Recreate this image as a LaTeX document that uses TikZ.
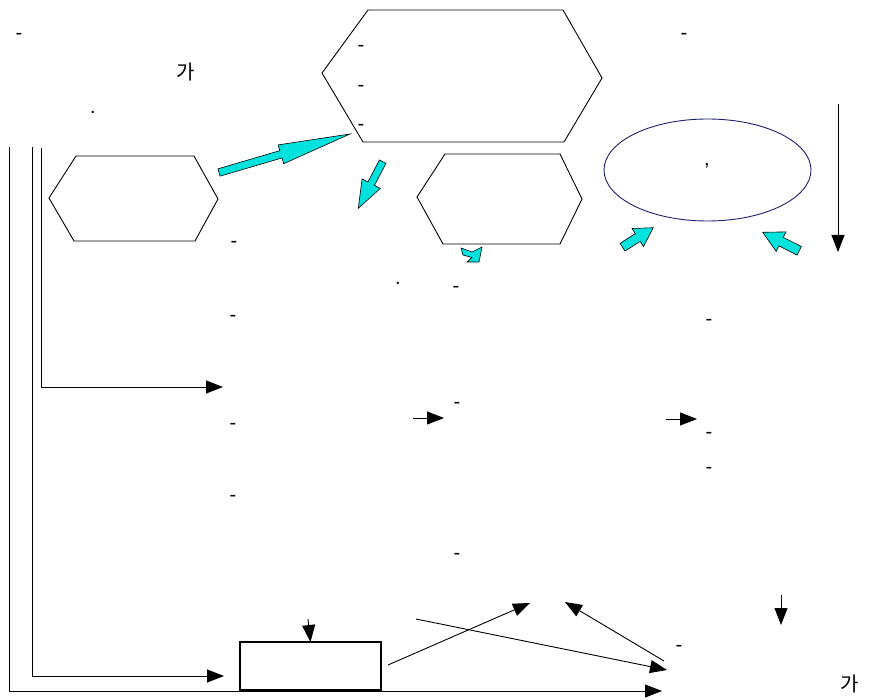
\documentclass[tikz,border=0pt]{standalone}
\usepackage{fontspec}
\setmainfont{Liberation Sans}
\newfontfamily\kofont{Noto Sans CJK KR}
\usepackage{tikz}
\usetikzlibrary{calc}
\usetikzlibrary{arrows.meta}
\usetikzlibrary{shapes,shapes.geometric}
\definecolor{cyanbi}{RGB}{0,226,222}
\definecolor{navybi}{RGB}{32,32,112}
\newcommand{\cyanarrow}[5]{%
	\coordinate (hb) at ($(#2)!#5!(#1)$);
	\draw[cyanblock] ($(#1)!#3!90:(#2)$) -- ($(hb)!#3!-90:(#1)$) -- ($(hb)!#4!-90:(#1)$) -- (#2)
		-- ($(hb)!#4!90:(#1)$) -- ($(hb)!#3!90:(#1)$) -- ($(#1)!#3!-90:(#2)$) -- cycle;}

\begin{document}
\begin{tikzpicture}[x=1pt, y=-1pt, line width=0.9pt,
		conn/.style={-{Triangle[length=17pt,width=13pt]}},
		txt/.style={inner sep=0pt, anchor=base, font=\fontsize{20}{24}\selectfont},
		kotxt/.style={inner sep=0pt, anchor=base, font=\kofont\fontsize{20}{24}\selectfont},
		cyanblock/.style={fill=cyanbi, draw=black, line width=0.6pt}]
				\useasboundingbox (0,0) rectangle (869,700);
				\draw (322,73) -- (368,10) -- (563,10) -- (602,78) -- (564,142) -- (363,142) -- cycle;
				\draw (49,198) -- (76,156) -- (194,156) -- (218,199) -- (195,241) -- (74,241) -- cycle;
				\draw (417,197) -- (445,154) -- (560,154) -- (582,199) -- (560,244) -- (443,244) -- cycle;
				\node[draw=navybi, ellipse, minimum width=207pt, minimum height=102pt, inner sep=0pt] (oval) at (707.5,170) {};
				\node[txt] (comma) at (707,166) {,};
				\node[txt] (d1) at (19,40) {-};
				\node[txt] (d2) at (361,52) {-};
				\node[txt] (d3) at (361,92) {-};
				\node[txt] (d4) at (361,131) {-};
				\node[txt] (d5) at (234,248) {-};
				\node[txt] (d6) at (456,292) {-};
				\node[txt] (d7) at (233,321) {-};
				\node[txt] (d8) at (709,325) {-};
				\node[txt] (d9) at (684,40) {-};
				\node[txt] (d10) at (233,429) {-};
				\node[txt] (d11) at (457,408) {-};
				\node[txt] (d12) at (709,438) {-};
				\node[txt] (d13) at (709,473) {-};
				\node[txt] (d14) at (233,501) {-};
				\node[txt] (d15) at (457,559) {-};
				\node[txt] (d16) at (679,651) {-};
				\node[txt] (p1) at (93,114) {.};
				\node[txt] (p2) at (398,285) {.};
				\node[kotxt] (ga1) at (186,80) {가};
				\node[kotxt] (ga2) at (850,691) {가};
				\coordinate (a1t) at (219,172.5);
				\coordinate (a1h) at (350,134);
				\cyanarrow{a1t}{a1h}{3.8pt}{9.8pt}{72pt}
				\coordinate (a2t) at (382.7,161.7);
				\coordinate (a2h) at (358.3,208.3);
				\cyanarrow{a2t}{a2h}{3.7pt}{10.3pt}{27.8pt}
				\coordinate (a4t) at (622.5,247.2);
				\coordinate (a4h) at (653.3,227.7);
				\cyanarrow{a4t}{a4h}{4.6pt}{10.7pt}{18.4pt}
				\coordinate (a5t) at (799.2,250.8);
				\coordinate (a5h) at (762.7,232.3);
				\cyanarrow{a5t}{a5h}{4.8pt}{10.9pt}{20.6pt}
				\draw[cyanblock] (461,248) -- (472,252) -- (482,247) -- (479,262) -- (467,262) -- (472,257.5) -- (463,255) -- cycle;
				\coordinate (rtop) at (838,104);
				\coordinate (rbot) at (838,252);
				\draw[conn] (rtop) -- (rbot);
				\coordinate (l1top) at (9,147);
				\coordinate (l1bot) at (9,691);
				\coordinate (l1end) at (662,691);
				\draw[conn] (l1top) -- (l1bot) -- (l1end);
				\coordinate (l2top) at (32,147);
				\coordinate (l2bot) at (32,676);
				\coordinate (l2end) at (224,676);
				\draw[conn] (l2top) -- (l2bot) -- (l2end);
				\coordinate (l3top) at (41,148);
				\coordinate (l3bot) at (41,387);
				\coordinate (l3end) at (223,387);
				\draw[conn] (l3top) -- (l3bot) -- (l3end);
				\coordinate (s1a) at (413,418);
				\coordinate (s1b) at (444,418);
				\draw[conn] (s1a) -- (s1b);
				\coordinate (s2a) at (666,419);
				\coordinate (s2b) at (697,419);
				\draw[conn] (s2a) -- (s2b);
				\node[draw, line width=1.3pt, minimum width=141pt, minimum height=48pt, inner sep=0pt, outer sep=0pt] (box) at (310.5,666) {};
				\coordinate (boxin) at (308,619);
				\draw[conn] (boxin) -- (box.north);
				\coordinate (x1a) at (388,665);
				\coordinate (x1b) at (530,603);
				\draw[conn] (x1a) -- (x1b);
				\coordinate (x2a) at (416,619);
				\coordinate (x2b) at (667,670);
				\draw[conn] (x2a) -- (x2b);
				\coordinate (x3a) at (664,661);
				\coordinate (x3b) at (565,602);
				\draw[conn] (x3a) -- (x3b);
				\coordinate (x4a) at (781,595);
				\coordinate (x4b) at (781,625);
				\draw[conn] (x4a) -- (x4b);
			\end{tikzpicture}
\end{document}
